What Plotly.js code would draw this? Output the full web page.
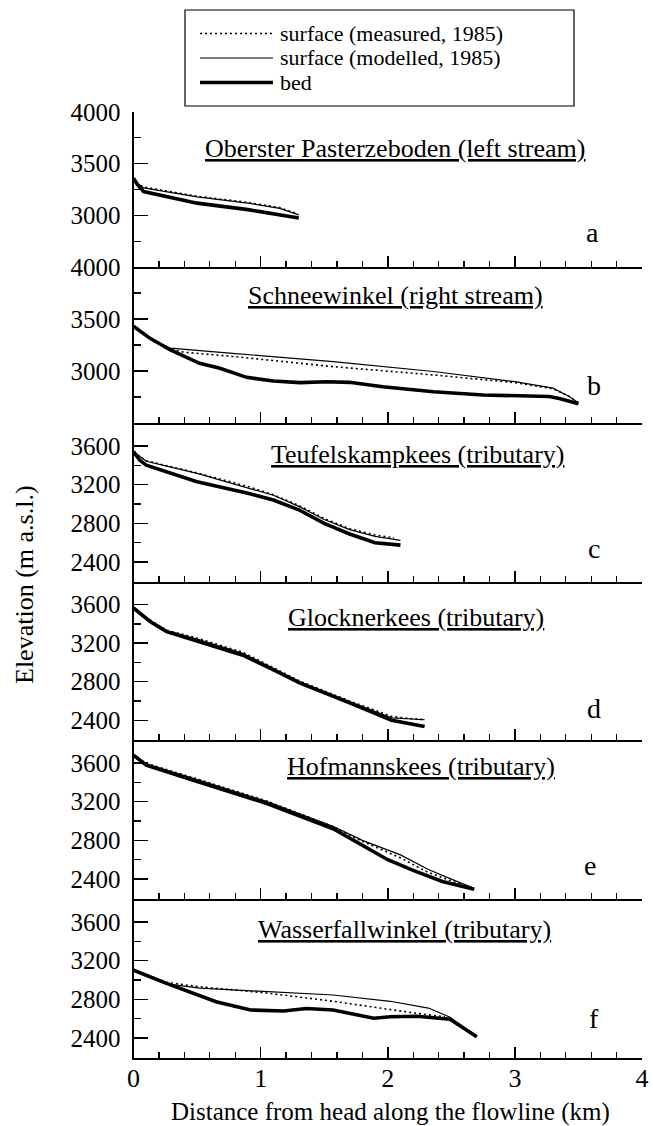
<!DOCTYPE html>
<html>
<head>
<meta charset="utf-8">
<script src="https://cdn.plot.ly/plotly-3.0.1.min.js"></script>
<style>html,body{margin:0;padding:0;background:#fff;}#chart{width:653px;height:1126px;}</style>
</head>
<body>
<div id="chart"></div>
<script>
// ---------- DATA (distance km, elevation m a.s.l.) ----------
const panelLetters = ['a','b','c','d','e','f'];
const panelTitles = [
  'Oberster Pasterzeboden (left stream)',
  'Schneewinkel (right stream)',
  'Teufelskampkees (tributary)',
  'Glocknerkees (tributary)',
  'Hofmannskees (tributary)',
  'Wasserfallwinkel (tributary)'
];
const seriesNames = ['surface (measured, 1985)', 'surface (modelled, 1985)', 'bed'];
const xTickLabels = ['0','1','2','3','4'];

// a: Oberster Pasterzeboden
const aMeasKm   = [0, 0.05, 0.1, 0.5, 0.9, 1.15, 1.25, 1.28];
const aMeasElev = [3355, 3290, 3270, 3185, 3125, 3075, 3030, 3020];
const aModKm    = [0, 0.03, 0.08, 0.5, 0.9, 1.15, 1.3];
const aModElev  = [3360, 3310, 3265, 3178, 3118, 3068, 3005];
const aBedKm    = [0, 0.03, 0.08, 0.2, 0.5, 0.9, 1.1, 1.3];
const aBedElev  = [3360, 3300, 3230, 3200, 3118, 3055, 3015, 2975];

// b: Schneewinkel
const bMeasKm   = [0, 0.1, 0.2, 0.29, 0.4, 0.78, 1.57, 2.36, 3.0, 3.3, 3.42, 3.5];
const bMeasElev = [3430, 3340, 3270, 3210, 3180, 3140, 3042, 2962, 2888, 2830, 2760, 2695];
const bModKm    = [0, 0.1, 0.2, 0.29, 0.78, 1.57, 2.36, 3.0, 3.3, 3.42, 3.5];
const bModElev  = [3430, 3340, 3270, 3220, 3170, 3090, 2995, 2897, 2835, 2760, 2695];
const bBedKm    = [0, 0.13, 0.29, 0.52, 0.68, 0.89, 1.1, 1.31, 1.52, 1.7, 1.96, 2.36, 2.75, 3.04, 3.27, 3.35, 3.5];
const bBedElev  = [3430, 3314, 3202, 3074, 3026, 2939, 2904, 2888, 2897, 2891, 2849, 2801, 2769, 2760, 2755, 2735, 2685];

// c: Teufelskampkees
const cMeasKm   = [0, 0.1, 0.5, 0.9, 1.1, 1.3, 1.5, 1.7, 1.9, 2.05];
const cMeasElev = [3530, 3445, 3320, 3180, 3095, 2985, 2850, 2745, 2680, 2650];
const cModKm    = [0, 0.1, 0.5, 0.9, 1.1, 1.3, 1.5, 1.7, 1.9, 2.1];
const cModElev  = [3540, 3440, 3315, 3165, 3090, 2975, 2840, 2735, 2665, 2625];
const cBedKm    = [0, 0.05, 0.1, 0.5, 0.9, 1.1, 1.3, 1.5, 1.7, 1.9, 2.1];
const cBedElev  = [3540, 3450, 3400, 3230, 3110, 3040, 2940, 2800, 2690, 2600, 2575];

// d: Glocknerkees
const dMeasKm   = [0, 0.13, 0.26, 0.52, 0.86, 1.13, 1.31, 1.7, 2.03, 2.16, 2.29];
const dMeasElev = [3560, 3440, 3335, 3245, 3105, 2925, 2805, 2600, 2440, 2420, 2405];
const dModKm    = [0, 0.13, 0.26, 0.52, 0.86, 1.13, 1.31, 1.7, 2.03, 2.29];
const dModElev  = [3565, 3435, 3330, 3235, 3095, 2920, 2800, 2595, 2425, 2405];
const dBedKm    = [0, 0.13, 0.26, 0.52, 0.86, 1.13, 1.31, 1.7, 2.03, 2.29];
const dBedElev  = [3565, 3425, 3320, 3215, 3075, 2905, 2785, 2580, 2400, 2335];

// e: Hofmannskees
const eMeasKm   = [0, 0.1, 0.52, 1.05, 1.57, 1.8, 2.1, 2.3, 2.5, 2.68];
const eMeasElev = [3675, 3595, 3425, 3205, 2940, 2790, 2620, 2480, 2380, 2300];
const eModKm    = [0, 0.1, 0.52, 1.05, 1.57, 1.8, 2.1, 2.32, 2.5, 2.68];
const eModElev  = [3680, 3590, 3420, 3200, 2945, 2800, 2650, 2500, 2400, 2305];
const eBedKm    = [0, 0.1, 0.52, 1.05, 1.57, 2.0, 2.2, 2.43, 2.68];
const eBedElev  = [3680, 3575, 3400, 3180, 2920, 2600, 2490, 2375, 2295];

// f: Wasserfallwinkel
const fMeasKm   = [0, 0.26, 0.52, 1.05, 1.57, 2.02, 2.23, 2.45];
const fMeasElev = [3110, 2975, 2930, 2865, 2780, 2690, 2655, 2620];
const fModKm    = [0, 0.26, 0.52, 1.05, 1.57, 2.02, 2.32, 2.49, 2.7];
const fModElev  = [3100, 2960, 2915, 2880, 2845, 2780, 2710, 2615, 2415];
const fBedKm    = [0, 0.26, 0.65, 0.92, 1.18, 1.36, 1.57, 1.89, 2.02, 2.23, 2.49, 2.7];
const fBedElev  = [3100, 2965, 2775, 2690, 2680, 2705, 2690, 2605, 2620, 2625, 2595, 2415];

const panelData = [
  [[aMeasKm,aMeasElev],[aModKm,aModElev],[aBedKm,aBedElev]],
  [[bMeasKm,bMeasElev],[bModKm,bModElev],[bBedKm,bBedElev]],
  [[cMeasKm,cMeasElev],[cModKm,cModElev],[cBedKm,cBedElev]],
  [[dMeasKm,dMeasElev],[dModKm,dModElev],[dBedKm,dBedElev]],
  [[eMeasKm,eMeasElev],[eModKm,eModElev],[eBedKm,eBedElev]],
  [[fMeasKm,fMeasElev],[fModKm,fModElev],[fBedKm,fBedElev]]
];

// ---------- LAYOUT ----------
const W = 653, H = 1126;
const FONT = '"Liberation Serif", "Times New Roman", Times, serif';
const px = v => v / W;
const py = v => 1 - v / H;

const panelPix = [[112,267],[267,423],[423,582],[582,740],[740,899],[899,1058]];
const panelRange = [[2500,4000],[2500,4000],[2195,3835],[2195,3835],[2195,3835],[2195,3835]];
const panelTicks = [[3000,3500,4000],[3000,3500,4000],[2400,2800,3200,3600],[2400,2800,3200,3600],[2400,2800,3200,3600],[2400,2800,3200,3600]];
const panelMinor = [[2750,3250,3750],[2750,3250,3750],[2600,3000,3400],[2600,3000,3400],[2600,3000,3400],[2600,3000,3400]];
const titlePos = [[395,148],[395,295],[417,455],[416,617],[421,766],[404,929]];
const letterPos = [[592,233],[594,385],[594,548],[594,708],[590,865],[594,1018]];

const lineStyles = [
  {color:'#000', width:1.6, dash:'2px,3px'},
  {color:'#000', width:1.2},
  {color:'#000', width:3.6}
];

const traces = [];
panelData.forEach((pd, i) => {
  const sfx = i === 0 ? '' : String(i + 1);
  [2,1,0].forEach(k => {
    traces.push({
      type:'scatter', mode:'lines',
      x: pd[k][0], y: pd[k][1],
      name: seriesNames[k],
      showlegend: false,
      line: lineStyles[k],
      xaxis: 'x' + sfx, yaxis: 'y' + sfx,
      hoverinfo: 'skip'
    });
  });
});

const layout = {
  width: W, height: H,
  margin: {l:0, r:0, t:0, b:0},
  paper_bgcolor: '#fff', plot_bgcolor: 'rgba(0,0,0,0)',
  showlegend: false,
  font: {family: FONT, size: 25, color: '#000'},
  annotations: [], shapes: []
};

const xDomain = [px(133.5), px(642)];
panelPix.forEach((pp, i) => {
  const sfx = i === 0 ? '' : String(i + 1);
  const last = i === panelPix.length - 1;
  layout['xaxis' + sfx] = {
    domain: xDomain, range: [0, 4], anchor: 'y' + sfx,
    tickmode: 'array', tickvals: [0,1,2,3,4], ticktext: xTickLabels,
    showticklabels: last, ticks: 'inside', ticklen: 11, tickwidth: 1.5, tickcolor: '#000',
    minor: {ticks: 'inside', ticklen: 6, tickwidth: 1.3, tickcolor: '#000', tickmode: 'linear', tick0: 0, dtick: 0.2},
    showline: true, linewidth: 2, linecolor: '#000',
    showgrid: false, zeroline: false, fixedrange: true,
    tickfont: {family: FONT, size: 26, color: '#000'}, ticklabelstandoff: -4
  };
  if (i > 0) layout['xaxis' + sfx].matches = 'x';
  layout['yaxis' + sfx] = {
    domain: [py(pp[1]), py(pp[0])], range: panelRange[i], anchor: 'x' + sfx,
    tickmode: 'array', tickvals: panelTicks[i],
    ticks: 'inside', ticklen: 14, tickwidth: 1.5, tickcolor: '#000',
    minor: {ticks: 'inside', ticklen: 7, tickwidth: 1.3, tickcolor: '#000', tickmode: 'array', tickvals: panelMinor[i]},
    showline: true, linewidth: 2, linecolor: '#000',
    showgrid: false, zeroline: false, fixedrange: true,
    tickfont: {family: FONT, size: 25, color: '#000'}, ticklabelstandoff: 6
  };
  layout.annotations.push({
    xref:'paper', yref:'paper', x: px(titlePos[i][0]), y: py(titlePos[i][1]),
    xanchor:'center', yanchor:'middle', showarrow:false,
    text: panelTitles[i],
    font: {family: FONT, size: 26, color:'#000', lineposition:'under'}
  });
  layout.annotations.push({
    xref:'paper', yref:'paper', x: px(letterPos[i][0]), y: py(letterPos[i][1]),
    xanchor:'center', yanchor:'middle', showarrow:false,
    text: panelLetters[i],
    font: {family: FONT, size: 28, color:'#000'}
  });
});

// axis titles
layout.annotations.push({
  xref:'paper', yref:'paper', x: px(24), y: py(585), textangle: -90,
  xanchor:'center', yanchor:'middle', showarrow:false,
  text: 'Elevation (m a.s.l.)', font: {family: FONT, size: 26, color:'#000'}
});
layout.annotations.push({
  xref:'paper', yref:'paper', x: px(390), y: py(1112),
  xanchor:'center', yanchor:'middle', showarrow:false,
  text: 'Distance from head along the flowline (km)', font: {family: FONT, size: 25, color:'#000'}
});

// legend box (drawn by hand to match the original's compact key)
layout.shapes.push({type:'rect', xref:'paper', yref:'paper', x0: px(185), x1: px(574), y0: py(106), y1: py(10), line:{color:'#000', width:1.2}});
const legRows = [33.5, 58, 82.5];
legRows.forEach((ry, k) => {
  layout.shapes.push({type:'line', xref:'paper', yref:'paper', x0: px(200), x1: px(273), y0: py(ry), y1: py(ry), line: lineStyles[k]});
  layout.annotations.push({
    xref:'paper', yref:'paper', x: px(279), y: py(ry),
    xanchor:'left', yanchor:'middle', showarrow:false, borderpad: 0,
    text: seriesNames[k], font: {family: FONT, size: 22, color:'#000'}
  });
});

Plotly.newPlot('chart', traces, layout, {displayModeBar:false, staticPlot:true});
</script>
</body>
</html>
